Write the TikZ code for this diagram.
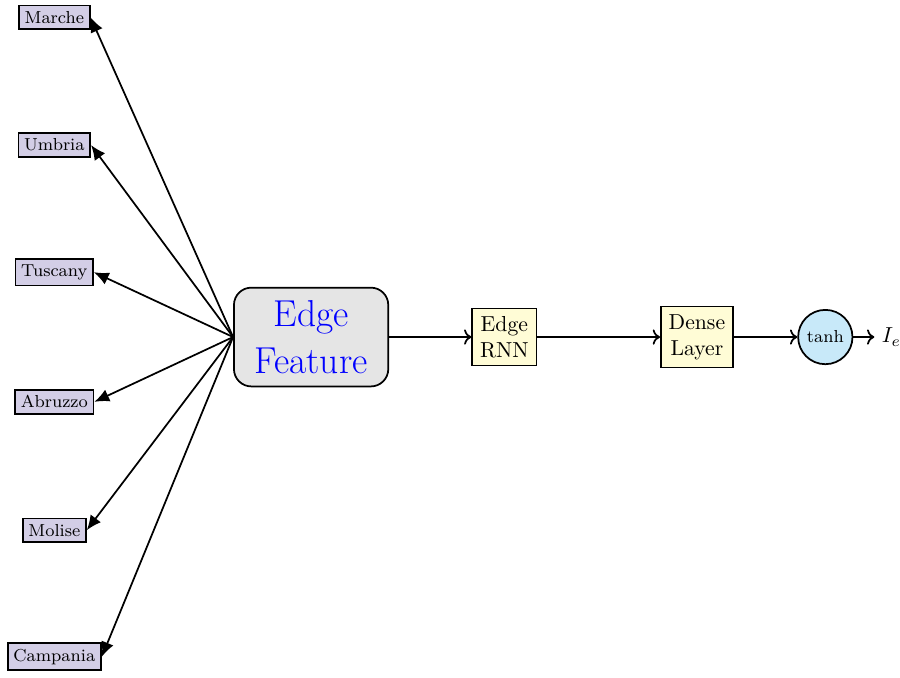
\documentclass[tikz,border=0pt]{standalone}
\usepackage{tikz}
\usetikzlibrary{positioning,
        shapes,
        arrows.meta}
\usepackage{amsmath}
\usepackage{xcolor}
\definecolor{regionfill}{RGB}{211,206,230}
\definecolor{layerfill}{RGB}{255,252,214}
\definecolor{actfill}{RGB}{200,233,249}

\begin{document}
\begin{tikzpicture}[
        region/.style={rectangle,draw,thick,fill=regionfill,inner sep=2.6pt,font=\footnotesize},
        feature/.style={rectangle,draw,thick,rounded corners=8pt,fill=gray!20,minimum width=2.5cm,minimum height=1.6cm,align=center,text=blue,font=\LARGE},
        layer/.style={rectangle,draw,thick,fill=layerfill,align=center,inner sep=3.6pt},
        act/.style={circle,draw,thick,fill=actfill,minimum size=0.88cm,inner sep=0pt,font=\footnotesize},
        toregion/.style={-{Latex[length=2.4mm,width=2.1mm]}, thick}]
            \useasboundingbox (-5.04,-5.51) rectangle (9.54,5.46);
            \node [feature] (Feat) at (0,0) {Edge\\Feature};
            \node [region] (Marche) at (-4.16,5.18) {Marche};
            \node [region] (Umbria) at (-4.16,3.11) {Umbria};
            \node [region] (Tuscany) at (-4.16,1.05) {Tuscany};
            \node [region] (Abruzzo) at (-4.16,-1.05) {Abruzzo};
            \node [region] (Molise) at (-4.16,-3.13) {Molise};
            \node [region] (Campania) at (-4.16,-5.18) {Campania};
            \node [layer] (RNN) at (3.13,0) {Edge\\RNN};
            \node [layer] (Dense) at (6.25,0) {Dense\\Layer};
            \node [act] (tanh) at (8.33,0) {tanh};
            \node [right=0.34cm of tanh] (Ie) {$I_e$};

            \draw [toregion] (Feat.west) -- (Marche.east);
            \draw [toregion] (Feat.west) -- (Umbria.east);
            \draw [toregion] (Feat.west) -- (Tuscany.east);
            \draw [toregion] (Feat.west) -- (Abruzzo.east);
            \draw [toregion] (Feat.west) -- (Molise.east);
            \draw [toregion] (Feat.west) -- (Campania.east);
            \draw [->, thick] (Feat) -- (RNN);
            \draw [->, thick] (RNN) -- (Dense);
            \draw [->, thick] (Dense) -- (tanh);
            \draw [->, thick] (tanh) -- (Ie);
        \end{tikzpicture}
\end{document}
